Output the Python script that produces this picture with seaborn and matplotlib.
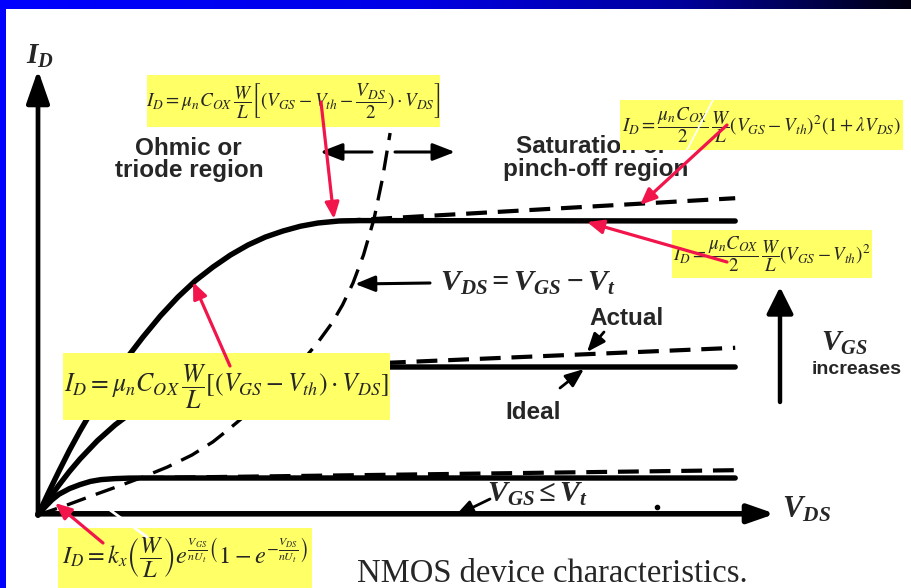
import numpy as np
import matplotlib
matplotlib.use("Agg")
import matplotlib.pyplot as plt
import matplotlib.transforms as mtransforms
from matplotlib.patches import Rectangle
from matplotlib.colors import LinearSegmentedColormap
import seaborn as sns

# ---- output characteristics (V_DS and I_D in arbitrary units) ----
# highest gate drive
vds_high = [0, 0.15, 0.3, 0.45, 0.6, 0.8, 1.0, 1.25, 1.5, 1.75, 2.0, 2.25, 2.5,
            2.75, 3.0, 3.25, 3.5, 3.75, 4.0, 4.3, 4.6, 9.96]
id_high = [0, 0.56, 1.1, 1.62, 2.1, 2.7, 3.25, 3.88, 4.45, 4.98, 5.45, 5.86, 6.2,
           6.5, 6.75, 6.95, 7.1, 7.22, 7.3, 7.35, 7.36, 7.35]
vds_high_act = [4.31, 9.96]
id_high_act = [7.35, 7.92]

# medium gate drive
vds_mid = [0, 0.15, 0.3, 0.45, 0.6, 0.85, 1.1, 1.35, 1.6, 1.85, 2.1, 2.35, 2.6,
           2.85, 3.1, 3.35, 3.6, 9.96]
id_mid = [0, 0.39, 0.75, 1.09, 1.4, 1.86, 2.25, 2.58, 2.86, 3.1, 3.3, 3.46, 3.57,
          3.64, 3.68, 3.7, 3.7, 3.7]
vds_mid_act = [3.6, 9.96]
id_mid_act = [3.7, 4.18]

# low gate drive
vds_low = [0, 0.1, 0.2, 0.3, 0.45, 0.6, 0.75, 0.9, 1.1, 1.3, 1.5, 9.96]
id_low = [0, 0.2, 0.38, 0.52, 0.66, 0.76, 0.84, 0.885, 0.91, 0.922, 0.925, 0.925]
vds_low_act = [1.5, 9.96]
id_low_act = [0.925, 1.12]

# boundary V_DS = V_GS - V_t between triode and saturation
vds_edge = [0, 0.4, 0.8, 1.15, 1.5, 1.85, 2.2, 2.5, 2.75, 3.05, 3.3, 3.55, 3.8,
            4.0, 4.2, 4.35, 4.5, 4.65, 4.8, 4.92, 5.03]
id_edge = [0, 0.24, 0.5, 0.72, 0.95, 1.2, 1.5, 1.83, 2.18, 2.62, 3.0, 3.43, 3.9,
           4.32, 4.8, 5.25, 5.8, 6.5, 7.4, 8.4, 9.55]

# model equations shown in the highlight boxes
eq_triode = (r"$I_D = \mu_n C_{OX}\,\dfrac{W}{L}\left[(V_{GS} - V_{th} - "
             r"\dfrac{V_{DS}}{2})\cdot V_{DS}\right]$")
eq_sat_clm = (r"$I_D = \dfrac{\mu_n C_{OX}}{2}\,\dfrac{W}{L}(V_{GS} - V_{th})^2"
              r"(1 + \lambda V_{DS})$")
eq_sat = r"$I_D = \dfrac{\mu_n C_{OX}}{2}\,\dfrac{W}{L}(V_{GS} - V_{th})^2$"
eq_linear = r"$I_D = \mu_n C_{OX}\,\dfrac{W}{L}\left[(V_{GS} - V_{th})\cdot V_{DS}\right]$"
eq_sub = (r"$I_D = k_x\left(\dfrac{W}{L}\right)e^{\frac{V_{GS}}{nU_t}}"
          r"\left(1 - e^{-\frac{V_{DS}}{nU_t}}\right)$")

W, H = 912, 588
sns.set_theme(style="white")
plt.rcParams["font.family"] = ["Liberation Sans", "DejaVu Sans"]
plt.rcParams["mathtext.fontset"] = "custom"
plt.rcParams["mathtext.rm"] = "Liberation Serif"
plt.rcParams["mathtext.it"] = "Liberation Serif:italic"
plt.rcParams["mathtext.bf"] = "Liberation Serif:bold:italic"

fig = plt.figure(figsize=(W / 100, H / 100), dpi=100)
fig.patch.set_facecolor("white")
ax = fig.add_axes([0, 0, 1, 1])
# origin at (38, 515) px; 70 px per V_DS unit, 40 px per I_D unit
ox, oy, sx, sy = 38, 515, 70, 40
ax.set_xlim(-ox / sx, (W - ox) / sx)
ax.set_ylim(-(H - oy) / sy, oy / sy)
ax.axis("off")

# pixel coordinates (top-left origin) for annotations
px = mtransforms.Affine2D().scale(1 / W, -1 / H).translate(0, 1) + fig.transFigure


def curve(x, y, lw, dashes=None):
    kw = dict(color="black", linewidth=lw, sort=False, estimator=None,
              errorbar=None, ax=ax, legend=False, zorder=2)
    if dashes is not None:
        kw["linestyle"] = (0, dashes)
    else:
        kw["solid_capstyle"] = "round"
        kw["solid_joinstyle"] = "round"
    sns.lineplot(x=x, y=y, **kw)


curve(vds_high, id_high, 3.9)
curve(vds_mid, id_mid, 3.9)
curve(vds_low, id_low, 3.9)
curve(vds_high_act, id_high_act, 3.0, (5, 2.6))
curve(vds_mid_act, id_mid_act, 3.0, (5, 2.6))
curve(vds_low_act, id_low_act, 3.0, (5, 2.6))
curve(vds_edge, id_edge, 2.4, (6, 3.2))

# axes with arrow heads
ax.annotate("", xy=(0, 11.125), xytext=(0, 0.03),
            arrowprops=dict(arrowstyle="-|>,head_length=1.0,head_width=0.35",
                            mutation_scale=20, lw=3.4, color="black",
                            shrinkA=0, shrinkB=0), zorder=3)
ax.annotate("", xy=(10.53, 0.03), xytext=(0, 0.03),
            arrowprops=dict(arrowstyle="-|>,head_length=0.8,head_width=0.28",
                            mutation_scale=20, lw=4.0, color="black",
                            shrinkA=0, shrinkB=0), zorder=3)

ax.text(40, 56, r"$\mathbf{I_D}$", transform=px, fontsize=21,
        ha="center", va="center", zorder=3)
ax.text(782, 510, r"$\mathbf{V_{DS}}$", transform=px, fontsize=22,
        ha="left", va="center", zorder=3)


def black_arrow(tail, head, lw=2.0, hl=0.7, hw=0.3, ms=16):
    ax.annotate("", xy=head, xytext=tail, xycoords=px, textcoords=px,
                arrowprops=dict(arrowstyle=f"-|>,head_length={hl},head_width={hw}",
                                mutation_scale=ms, lw=lw, color="black",
                                shrinkA=0, shrinkB=0), zorder=3)


# region labels
lab = dict(transform=px, fontsize=17.5, fontweight="bold", ha="center",
           va="baseline", zorder=3)
ax.text(188, 155, "Ohmic or", **lab)
ax.text(189, 177, "triode region", **lab)
ax.text(592, 153, "Saturation or", **lab)
ax.text(596, 176, "pinch-off region", **lab)
black_arrow((372, 152), (320, 152), lw=2.2, hl=0.9, hw=0.35, ms=15)
black_arrow((395, 152), (455, 152), lw=2.2, hl=0.9, hw=0.35, ms=15)

ax.text(440, 283, r"$\mathbf{V_{DS} = V_{GS} - V_t}$", transform=px, fontsize=21.5,
        ha="left", va="center", zorder=3)
black_arrow((430, 283), (355, 284), lw=2.2, hl=0.8, hw=0.32, ms=15)

ax.text(627, 325, "Actual", **lab)
black_arrow((604, 332), (587, 352), lw=2.0, hl=0.8, hw=0.32, ms=14)
ax.text(533, 419, "Ideal", **lab)
black_arrow((560, 388), (584, 369), lw=2.0, hl=0.8, hw=0.32, ms=14)

black_arrow((780, 402), (780, 287), lw=3.2, hl=0.9, hw=0.45, ms=18)
ax.text(844, 343, r"$\mathbf{V_{GS}}$", transform=px, fontsize=21,
        ha="center", va="center", zorder=3)
ax.text(857, 374, "increases", transform=px, fontsize=14, fontweight="bold",
        ha="center", va="baseline", zorder=3)

ax.text(487, 494, r"$\mathbf{V_{GS} \leq V_t}$", transform=px, fontsize=21.5,
        ha="left", va="center", zorder=3)
black_arrow((490, 499), (455, 516), lw=2.0, hl=0.8, hw=0.32, ms=14)
ax.plot([657], [507], "o", color="black", markersize=3, transform=px, zorder=3)

ax.text(357, 582, "NMOS device characteristics.", transform=px, fontsize=23.5,
        family="Liberation Serif", ha="left", va="baseline", zorder=3)

# highlighted model equations
boxes = [
    ((147, 75, 440, 127), eq_triode, 13.8),
    ((620, 100, 903, 150), eq_sat_clm, 13.8),
    ((672, 230, 872, 278), eq_sat, 13.6),
    ((63, 353, 390, 420), eq_linear, 18.5),
    ((58, 528, 312, 588), eq_sub, 17.5),
]
for (x0, y0, x1, y1), eq, fs in boxes:
    ax.add_patch(Rectangle((x0, y0), x1 - x0, y1 - y0, transform=px,
                           facecolor="#FFFF66", edgecolor="none", zorder=5,
                           clip_on=False))
    ax.text((x0 + x1) / 2, (y0 + y1) / 2, eq, transform=px, fontsize=fs,
            math_fontfamily="stix", ha="center", va="center", zorder=6)

# faint white strokes crossing two of the boxes
ax.plot([713, 687], [100, 150], color="white", lw=1.2, transform=px, zorder=6.5)
ax.plot([110, 147], [510, 537], color="white", lw=2.0, transform=px, zorder=6.5)

# red pointers from equations to curve regions
red = "#F2154B"
pointers = [
    ((321, 102), (334, 219)),
    ((727, 125), (640, 205)),
    ((727, 262), (587, 222)),
    ((230, 366), (193, 282)),
    ((103, 543), (55, 503)),
]
for tail, head in pointers:
    ax.annotate("", xy=head, xytext=tail, xycoords=px, textcoords=px,
                arrowprops=dict(arrowstyle="-|>,head_length=0.7,head_width=0.3",
                                mutation_scale=14, lw=2.3, color=red,
                                shrinkA=0, shrinkB=0), zorder=7)

# slide frame: blue left edge and gradient top band
ax.add_patch(Rectangle((0, 0), 6, H, transform=px, facecolor="#0000FF",
                       edgecolor="none", zorder=10, clip_on=False))
band = fig.add_axes([0, 1 - 9 / H, 1, 9 / H])
cmap = LinearSegmentedColormap.from_list(
    "frame", [(0, "#0000FF"), (0.45, "#0000E6"), (0.75, "#00009A"), (1, "#000010")])
band.imshow(np.linspace(0, 1, 512)[None, :], aspect="auto", cmap=cmap)
band.axis("off")

fig.savefig("out.png", dpi=100, facecolor="white")
